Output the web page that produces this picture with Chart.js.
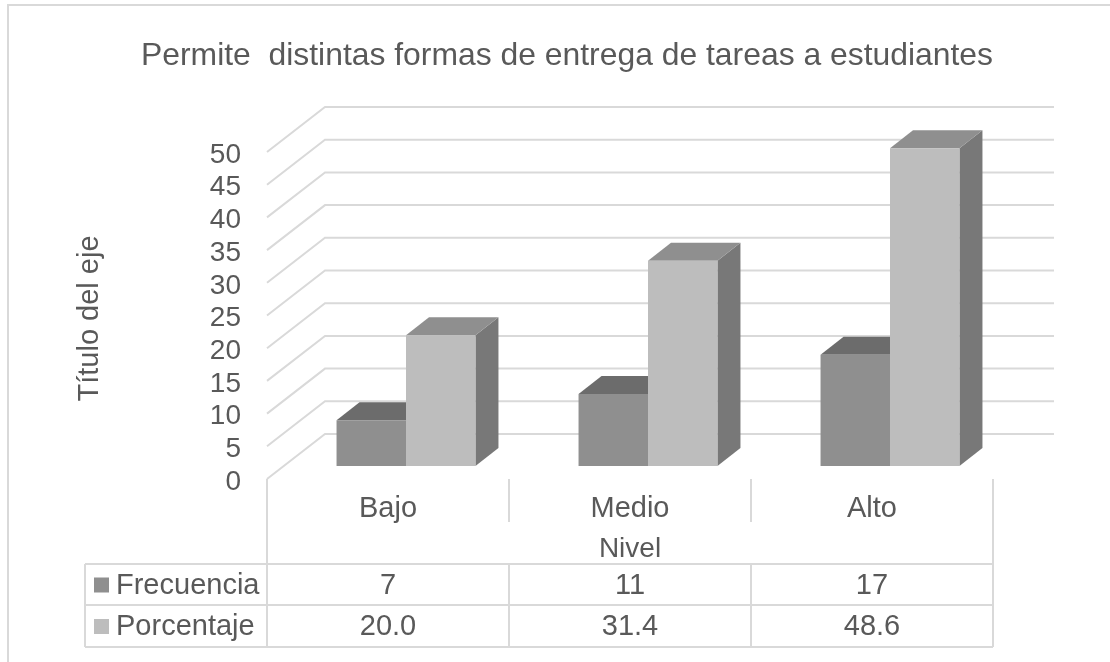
<!DOCTYPE html>
<html>
<head>
<meta charset="utf-8">
<script src="https://cdn.jsdelivr.net/npm/chart.js@4"></script>
<style>
html, body { margin: 0; padding: 0; background: #fff; }
#wrap { width: 1110px; height: 662px; }
</style>
</head>
<body>
<div id="wrap"><canvas id="BarChart" width="1110" height="662"></canvas></div>
<script>
var chartTitle = 'Permite  distintas formas de entrega de tareas a estudiantes';
var categories = ['Bajo', 'Medio', 'Alto'];
var frecuencia = [7, 11, 17];
var porcentaje = [20.0, 31.4, 48.6];

var fontName = '"Liberation Sans", Arial, sans-serif';
var textColor = '#595959';
var lineColor = '#d9d9d9';

// wall depth and bar depth of the fake 3d look
var wallDx = 58, wallDy = 45, wallNudge = 3;
var barDx = 23, barDy = 18;
var barShiftX = 18, barShiftY = 16;

var faces = [
    { front: '#8f8f8f', top: '#6c6c6c', side: '#787878' },
    { front: '#bdbdbd', top: '#8f8f8f', side: '#787878' }
];

function line(ctx, x1, y1, x2, y2) {
    ctx.beginPath();
    ctx.moveTo(x1, y1);
    ctx.lineTo(x2, y2);
    ctx.stroke();
}

function poly(ctx, pts, color) {
    ctx.beginPath();
    ctx.moveTo(pts[0][0], pts[0][1]);
    for (var i = 1; i < pts.length; i++) ctx.lineTo(pts[i][0], pts[i][1]);
    ctx.closePath();
    ctx.fillStyle = color;
    ctx.fill();
}

var threeD = {
    id: 'threeD',
    afterLayout: function (chart) {
        chart.titleBlock.left = 141;
        chart.titleBlock.right = 993;
    },
    beforeDatasetsDraw: function (chart) {
        var ctx = chart.ctx, y = chart.scales.y, area = chart.chartArea;
        ctx.save();
        ctx.strokeStyle = lineColor;
        ctx.lineWidth = 2;
        // outer frame, open on the right
        ctx.beginPath();
        ctx.moveTo(8, 662);
        ctx.lineTo(8, 5);
        ctx.lineTo(1110, 5);
        ctx.stroke();
        // walls
        y.ticks.forEach(function (t, i) {
            var py = y.getPixelForTick(i) - wallNudge;
            ctx.beginPath();
            ctx.moveTo(area.left, py);
            ctx.lineTo(area.left + wallDx, py - wallDy);
            ctx.lineTo(1054, py - wallDy);
            ctx.stroke();
        });
        ctx.restore();

        // bars are moved onto the floor, side and top go first, the library paints the front
        ctx.save();
        ctx.translate(barShiftX, -barShiftY);
        chart.data.datasets.forEach(function (ds, d) {
            chart.getDatasetMeta(d).data.forEach(function (el) {
                var l = el.x - el.width / 2, r = el.x + el.width / 2;
                poly(ctx, [[r, el.y], [r + barDx, el.y - barDy], [r + barDx, el.base - barDy], [r, el.base]], faces[d].side);
                poly(ctx, [[l, el.y], [l + barDx, el.y - barDy], [r + barDx, el.y - barDy], [r, el.y]], faces[d].top);
            });
        });
    },
    afterDatasetsDraw: function (chart) {
        chart.ctx.restore();
    },
    afterDraw: function (chart) {
        var ctx = chart.ctx, x = chart.scales.x, area = chart.chartArea;
        var cols = [area.left];
        categories.forEach(function (c, i) {
            cols.push(area.left + (area.right - area.left) * (i + 1) / categories.length);
        });
        var tableLeft = 85, rows = [564, 605, 647];
        var floorY = area.bottom - wallNudge;
        ctx.save();
        ctx.strokeStyle = lineColor;
        ctx.lineWidth = 2;
        // axis drop lines
        cols.forEach(function (cx, i) {
            var end = (i === 0 || i === cols.length - 1) ? rows[0] : 522;
            line(ctx, cx, floorY, cx, end);
        });
        // table grid
        rows.forEach(function (ry) { line(ctx, tableLeft, ry, cols[cols.length - 1], ry); });
        line(ctx, tableLeft, rows[0], tableLeft, rows[2]);
        cols.forEach(function (cx) { line(ctx, cx, rows[0], cx, rows[2]); });

        // table text
        ctx.font = '29px ' + fontName;
        ctx.textBaseline = 'middle';
        ctx.fillStyle = textColor;
        var names = [chart.data.datasets[0].label, chart.data.datasets[1].label];
        var tableRows = [frecuencia.map(String), porcentaje.map(function (v) { return v.toFixed(1); })];
        tableRows.forEach(function (vals, r) {
            var cy = (rows[r] + rows[r + 1]) / 2 + 1;
            ctx.fillStyle = faces[r].front;
            ctx.fillRect(94, cy - 8, 15, 15);
            ctx.fillStyle = textColor;
            ctx.textAlign = 'left';
            ctx.fillText(names[r], 116, cy);
            ctx.textAlign = 'center';
            vals.forEach(function (v, i) {
                ctx.fillText(v, x.getPixelForTick(i), cy);
            });
        });
        ctx.restore();
    }
};

new Chart(document.getElementById('BarChart'), {
    type: 'bar',
    plugins: [threeD],
    data: {
        labels: categories,
        datasets: [
            { label: 'Frecuencia', data: frecuencia, backgroundColor: faces[0].front },
            { label: 'Porcentaje', data: porcentaje, backgroundColor: faces[1].front }
        ]
    },
    options: {
        responsive: false,
        animation: false,
        layout: { padding: { left: 0, right: 117, top: 0, bottom: 96 } },
        datasets: { bar: { categoryPercentage: 0.574, barPercentage: 1, clip: false } },
        plugins: {
            legend: { display: false },
            tooltip: { enabled: false },
            title: {
                display: true,
                text: chartTitle,
                color: textColor,
                font: { family: fontName, size: 32, weight: 'normal', lineHeight: 1.2 },
                padding: { top: 37, bottom: 79.6 }
            }
        },
        scales: {
            x: {
                grid: { display: false, drawTicks: false },
                border: { display: false },
                afterFit: function (s) { s.height = 84; },
                ticks: { color: textColor, padding: 10, maxRotation: 0, font: { family: fontName, size: 29 } },
                title: {
                    display: true,
                    text: 'Nivel',
                    color: textColor,
                    padding: { top: 0, bottom: 0 },
                    font: { family: fontName, size: 28 }
                }
            },
            y: {
                min: 0,
                max: 50,
                grid: { display: false, drawTicks: false },
                border: { display: false },
                afterFit: function (s) { s.width = 267; },
                ticks: { stepSize: 5, autoSkip: false, color: textColor, padding: 26, font: { family: fontName, size: 28 } },
                title: {
                    display: true,
                    text: 'Título del eje',
                    color: textColor,
                    padding: { top: 73, bottom: 0 },
                    font: { family: fontName, size: 29 }
                }
            }
        }
    }
});
</script>
</body>
</html>
